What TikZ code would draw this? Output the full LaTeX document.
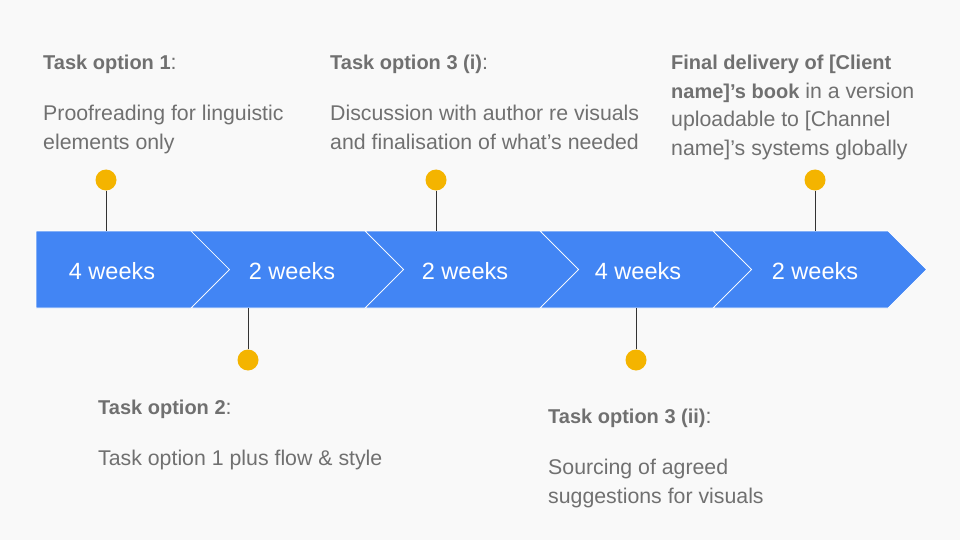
\documentclass[tikz,border=0pt]{standalone}
\usepackage{fontspec}
\setmainfont{Liberation Sans}
\definecolor{bandblue}{HTML}{4285F4}
\definecolor{dotgold}{HTML}{F4B400}
\definecolor{txtgray}{HTML}{707070}
\definecolor{bgpaper}{HTML}{F9F9F9}
\newcommand\taskhead[1]{{\fontsize{20}{28.5}\selectfont\bfseries #1}}
\tikzset{
  weeklabel/.style={anchor=base,text=white,font=\fontsize{23.5}{26}\selectfont},
  milestone/.style={circle,fill=dotgold,minimum size=21pt,inner sep=0pt},
  stem/.style={draw=black!80,line width=0.8pt},
  tasktext/.style={anchor=north west,inner sep=0pt,align=left,text=txtgray,font=\fontsize{21.3}{28.5}\selectfont},
  segment/.style={fill=bandblue,draw=white,line width=0.7pt,line join=miter}
}
\begin{document}
\begin{tikzpicture}[x=1pt,y=-1pt]
  \fill[bgpaper] (0,0) rectangle (960,540);
  \useasboundingbox (0,0) rectangle (960,540);
  \coordinate (bandtop) at (0,231);
  \coordinate (bandbot) at (0,308);
  % arrow band
  \filldraw[segment] (36,231) -- (191,231) -- (229.5,269.5) -- (191,308) -- (36,308) -- cycle;
  \foreach \l/\r in {191/365,365/540,540/713,713/888}
    \filldraw[segment] (\l,231) -- (\r,231) -- (\r+38.5,269.5) -- (\r,308) -- (\l,308) -- (\l+38.5,269.5) -- cycle;
  \node[weeklabel] (w1) at (112,279) {4 weeks};
  \node[weeklabel] (w2) at (292,279) {2 weeks};
  \node[weeklabel] (w3) at (465,279) {2 weeks};
  \node[weeklabel] (w4) at (638,279) {4 weeks};
  \node[weeklabel] (w5) at (815,279) {2 weeks};
  % milestones
  \node[milestone] (m1) at (106,180) {};
  \node[milestone] (m2) at (248,360) {};
  \node[milestone] (m3) at (436,180) {};
  \node[milestone] (m4) at (636,360) {};
  \node[milestone] (m5) at (815,180) {};
  \draw[stem] (m1) -- (m1 |- bandtop);
  \draw[stem] (m3) -- (m3 |- bandtop);
  \draw[stem] (m5) -- (m5 |- bandtop);
  \draw[stem] (m2) -- (m2 |- bandbot);
  \draw[stem] (m4) -- (m4 |- bandbot);
  % task texts
  \node[tasktext] (t1) at (43,55) {\taskhead{Task option 1}:};
  \node[tasktext] (p1) at (43,105) {Proofreading for linguistic\\elements only};
  \node[tasktext] (t3a) at (330,55) {\taskhead{Task option 3 (i)}:};
  \node[tasktext] (p3a) at (330,105) {Discussion with author re visuals\\and finalisation of what’s needed};
  \node[tasktext] (fin) at (671,55) {\taskhead{Final delivery of [Client}\\\taskhead{name]’s book} in a version\\uploadable to [Channel\\name]’s systems globally};
  \node[tasktext] (t2) at (98,400) {\taskhead{Task option 2}:};
  \node[tasktext] (p2) at (98,450) {Task option 1 plus flow \& style};
  \node[tasktext] (t3b) at (548,409) {\taskhead{Task option 3 (ii)}:};
  \node[tasktext] (p3b) at (548,459) {Sourcing of agreed\\suggestions for visuals};
\end{tikzpicture}
\end{document}
